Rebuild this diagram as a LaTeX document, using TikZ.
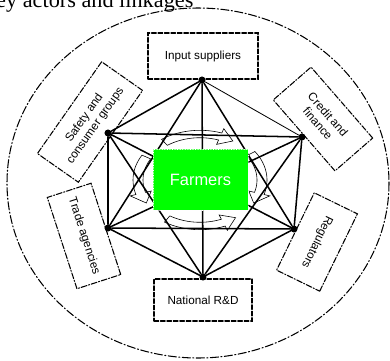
\documentclass[tikz,border=0pt]{standalone}
\usepackage{fontspec}
\setmainfont{Liberation Serif}
\setsansfont{Liberation Sans}
\usepackage{tikz}

\begin{document}
\begin{tikzpicture}
		[x=0.03cm,y=-0.03cm,line cap=round,
		%Styles
		hub/.style={circle,fill,inner sep=0pt,minimum size=6pt},
		link/.style={line width=1.3pt},
		thin link/.style={line width=0.7pt},
		actor/.style={draw,fill=white,line width=0.9pt,dash pattern=on 4pt off 1.5pt,font=\sffamily\fontsize{10}{11.5}\selectfont,align=center,inner sep=2pt},
		tilted actor/.style={actor,dash pattern=on 5pt off 1.5pt on 1pt off 1.5pt},
		cycle arrow/.style={draw,fill=white,line width=0.5pt}
		]
		
		%Colors
		\colorlet{farmercolor}{green}
		
		\useasboundingbox (0,0) rectangle (390,360);
		
		%Title, cut off at the top
		\node[anchor=base west,font=\fontsize{19}{22}\selectfont,inner sep=0pt] (title) at (-4,7) {ey actors and linkages};
		
		%Outer boundary
		\draw[line width=0.9pt,dash pattern=on 7pt off 2pt on 1pt off 2pt] (198,183) ellipse [x radius=191,y radius=175];
		
		%The actors
		\node[actor,minimum width=3.3cm,minimum height=1.38cm] (input) at (203,56) {Input suppliers};
		\node[actor,minimum width=2.94cm,minimum height=1.26cm] (rnd) at (203,300) {National R\&D};
		\node[tilted actor,rotate=55,minimum width=3.36cm,minimum height=1.5cm] (safety) at (90,122) {Safety and\\consumer groups};
		\node[tilted actor,rotate=-49,minimum width=2.82cm,minimum height=1.5cm] (credit) at (323,119) {Credit and\\finance};
		\node[tilted actor,rotate=-72,minimum width=2.88cm,minimum height=1.38cm] (trade) at (84,236) {Trade agencies};
		\node[tilted actor,rotate=-116,minimum width=2.58cm,minimum height=1.44cm] (regul) at (317,242) {Regulators};
		
		%Cycle round the farmers
		\foreach \sa/\ea/\dd in {125/58/-1,35/-30/-1,238/305/1,150/210/1}{
			\pgfmathsetmacro\ma{\ea-\dd*13}
			\draw[cycle arrow] plot[domain=\sa:\ma,samples=15] ({200+67*cos(\x)},{180-49.7*sin(\x)})
				-- ({200+73*cos(\ma)},{180-54.3*sin(\ma)}) -- ({200+62*cos(\ea)},{180-46*sin(\ea)})
				-- ({200+51*cos(\ma)},{180-37.7*sin(\ma)})
				-- plot[domain=\ma:\sa,samples=15] ({200+57*cos(\x)},{180-42.3*sin(\x)}) -- cycle;
		}
		
		%Hubs and links
		\node[hub] (t) at (202,80) {};
		\node[hub] (ul) at (108,133) {};
		\node[hub] (ur) at (302,137) {};
		\node[hub] (ll) at (108,228) {};
		\node[hub] (lr) at (294,229) {};
		\node[hub] (b) at (203,277) {};
		\foreach \a/\b in {t/ul,t/ll,t/lr,t/b,ul/ur,ul/ll,ul/lr,ul/b,ur/ll,ur/lr,ur/b,ll/lr,ll/b,lr/b}
			\draw[link] (\a) -- (\b);
		\draw[thin link] (t) -- (ur);
		
		%Farmers in the middle
		\node[fill=farmercolor,draw=white,densely dotted,text=white,font=\sffamily\fontsize{14}{16}\selectfont,minimum width=2.85cm,minimum height=1.83cm] (farmers) at (200.5,179.5) {Farmers};
	\end{tikzpicture}
\end{document}
